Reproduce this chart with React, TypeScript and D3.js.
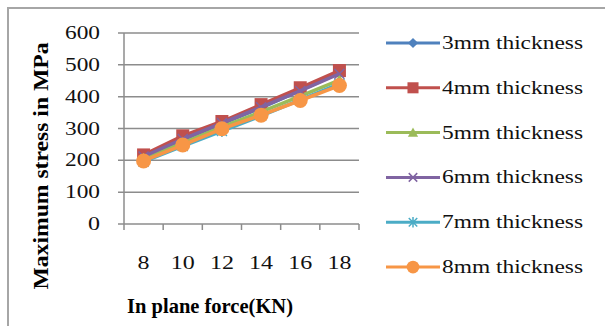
import * as React from "react"
import * as d3 from "d3"

const forces = ["8", "10", "12", "14", "16", "18"]
const yTicks = [0, 100, 200, 300, 400, 500, 600]

const seriesNames = ["3mm thickness", "4mm thickness", "5mm thickness", "6mm thickness", "7mm thickness", "8mm thickness"]
const seriesColors = ["#4F81BD", "#C0504D", "#9BBB59", "#8064A2", "#4BACC6", "#F79646"]
const markers = ["diamond", "square", "triangle", "x", "star", "circle"]

const s3mm = [210, 265, 315, 365, 420, 475]
const s4mm = [217, 277, 322, 375, 428, 482]
const s5mm = [205, 255, 305, 352, 402, 452]
const s6mm = [212, 267, 317, 367, 418, 472]
const s7mm = [196, 245, 292, 340, 390, 440]
const s8mm = [198, 248, 299, 342, 388, 435]
const seriesValues = [s3mm, s4mm, s5mm, s6mm, s7mm, s8mm]

const Marker = ({ kind, x, y, color, s = 1 }: { kind: string, x: number, y: number, color: string, s?: number }) => {
    if (kind === "diamond") {
        const r = 6 * s
        return <path d={`M${x},${y - r}L${x + r},${y}L${x},${y + r}L${x - r},${y}Z`} fill={color} />
    }
    if (kind === "square") {
        const r = 6.5 * s
        return <rect x={x - r} y={y - r} width={2 * r} height={2 * r} fill={color} />
    }
    if (kind === "triangle") {
        const r = 6 * s
        return <path d={`M${x},${y - r}L${x + r},${y + r * 0.8}L${x - r},${y + r * 0.8}Z`} fill={color} />
    }
    if (kind === "x") {
        const r = 5 * s
        return <path d={`M${x - r},${y - r}L${x + r},${y + r}M${x + r},${y - r}L${x - r},${y + r}`} stroke={color} strokeWidth={1.5} fill="none" />
    }
    if (kind === "star") {
        const r = 5 * s
        return <path d={`M${x - r},${y - r}L${x + r},${y + r}M${x + r},${y - r}L${x - r},${y + r}M${x},${y - r - 1}L${x},${y + r + 1}`} stroke={color} strokeWidth={1.5} fill="none" />
    }
    return <circle cx={x} cy={y} r={7.5 * s} fill={color} />
}

export default function App() {
    const [w, h] = [605, 326]
    const plot = { left: 124, right: 359, top: 33, bottom: 224 }

    const xScale = d3.scaleBand().domain(forces).range([plot.left, plot.right])
    const yScale = d3.scaleLinear().domain([0, 600]).range([plot.bottom, plot.top])
    const legendY = d3.scalePoint().domain(seriesNames).range([43, 267])

    const cx = (f: string) => (xScale(f) ?? 0) + xScale.bandwidth() / 2

    const line = d3.line<number>()
        .x((_, i) => cx(forces[i]))
        .y(d => yScale(d))

    const font = "'Liberation Serif', 'Times New Roman', serif"

    const grid = yTicks.map(t => (
        <g key={t}>
            <line x1={plot.left - 6} x2={plot.right} y1={yScale(t)} y2={yScale(t)} stroke="#8c8c8c" strokeWidth={1.5} />
            <text x={100} y={yScale(t) + 6} fontSize={19} textAnchor="end" fontFamily={font} fill="#111"
                textLength={t === 0 ? 12 : 35} lengthAdjust="spacingAndGlyphs">{t}</text>
        </g>
    ))

    const xTicks = [...forces.map(f => xScale(f) ?? 0), plot.right].map((x, i) => (
        <line key={i} x1={x} x2={x} y1={plot.bottom} y2={plot.bottom + 6} stroke="#8c8c8c" strokeWidth={1.5} />
    ))

    const xLabels = forces.map(f => (
        <text key={f} x={cx(f)} y={269} fontSize={19} textAnchor="middle" fontFamily={font} fill="#111"
            textLength={f.length === 1 ? 12 : 24} lengthAdjust="spacingAndGlyphs">{f}</text>
    ))

    const series = seriesValues.map((vals, si) => (
        <g key={si}>
            <path d={line(vals) ?? ""} fill="none" stroke={seriesColors[si]} strokeWidth={3.5} />
            {vals.map((v, i) => (
                <Marker key={i} kind={markers[si]} x={cx(forces[i])} y={yScale(v)} color={seriesColors[si]} />
            ))}
        </g>
    ))

    const legend = seriesNames.map((name, si) => {
        const y = legendY(name) ?? 0
        return (
            <g key={name}>
                <line x1={386} x2={440} y1={y} y2={y} stroke={seriesColors[si]} strokeWidth={3} />
                <Marker kind={markers[si]} x={413} y={y} color={seriesColors[si]} s={0.85} />
                <text x={442} y={y + 6} fontSize={19} fontFamily={font} fill="#111"
                    textLength={141} lengthAdjust="spacingAndGlyphs">{name}</text>
            </g>
        )
    })

    return (
        <div style={{ position: "absolute", left: 0, top: 0 }}>
            <svg width={w} height={h} style={{ display: "block", background: "white" }}>
                <rect x={8} y={8} width={w} height={h} fill="white" stroke="#a6a6a6" strokeWidth={2} />
                {grid}
                <line x1={plot.left} x2={plot.left} y1={plot.top} y2={plot.bottom} stroke="#8c8c8c" strokeWidth={1.5} />
                {xTicks}
                {xLabels}
                {series}
                {legend}
                <text transform={`translate(48,${166}) rotate(-90)`} fontSize={20} fontWeight="bold" textAnchor="middle"
                    fontFamily={font} textLength={247} lengthAdjust="spacingAndGlyphs">Maximum stress in MPa</text>
                <text x={210} y={313} fontSize={20} fontWeight="bold" textAnchor="middle"
                    fontFamily={font} textLength={166} lengthAdjust="spacingAndGlyphs">In plane force(KN)</text>
            </svg>
        </div>
    )
}
